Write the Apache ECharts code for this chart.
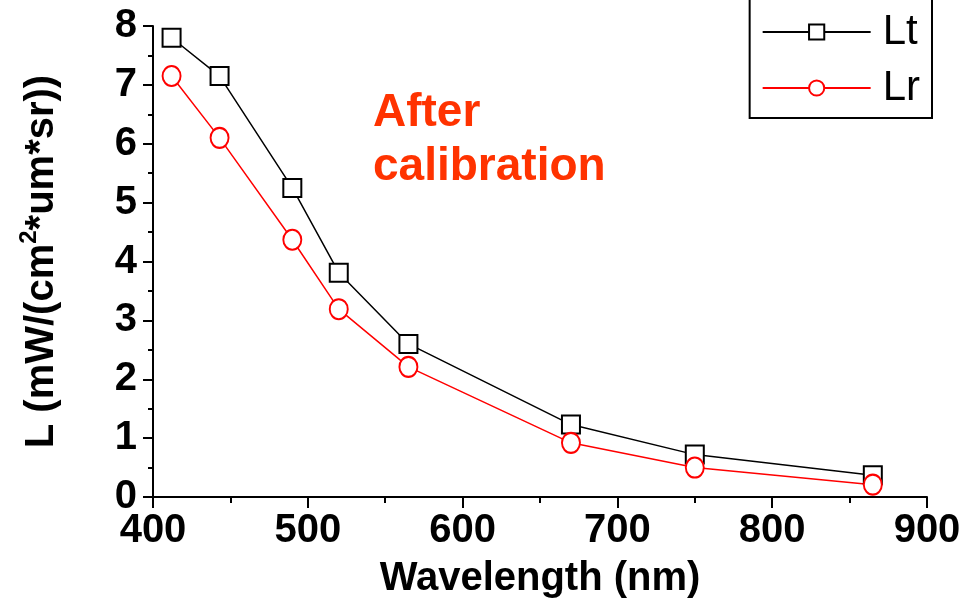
<!DOCTYPE html>
<html>
<head>
<meta charset="utf-8">
<script src="https://cdn.jsdelivr.net/npm/echarts@6/dist/echarts.min.js"></script>
<style>
  html, body { margin: 0; padding: 0; background: #fff; }
  #chart { width: 980px; height: 605px; }
</style>
</head>
<body>
<div id="chart"></div>
<script>
var wavelengths = [412, 443, 490, 520, 565, 670, 750, 865];
var lt = [7.8, 7.15, 5.25, 3.81, 2.6, 1.23, 0.72, 0.37];
var lr = [7.15, 6.1, 4.37, 3.19, 2.21, 0.92, 0.5, 0.21];
var xTicks = [400, 500, 600, 700, 800, 900];
var yTicks = [0, 1, 2, 3, 4, 5, 6, 7, 8];

function pairs(xs, ys) {
  return xs.map(function (x, i) { return [x, ys[i]]; });
}

var font = 'Liberation Sans';
var chart = echarts.init(document.getElementById('chart'));

var option = {
  backgroundColor: '#fff',
  animation: false,
  grid: { left: 153, right: 53, top: 26, bottom: 108, outerBoundsMode: 'none' },
  legend: {
    orient: 'vertical',
    right: 48,
    top: -14,
    padding: [25, 12, 9, 12],
    itemGap: 14,
    itemWidth: 108,
    itemHeight: 19,
    borderColor: '#000',
    borderWidth: 2,
    borderRadius: 0,
    textStyle: { fontFamily: font, fontSize: 42, color: '#000', lineHeight: 42, padding: [0, 0, 0, 7] },
    data: ['Lt', 'Lr']
  },
  xAxis: {
    type: 'value',
    min: xTicks[0],
    max: xTicks[xTicks.length - 1],
    interval: 100,
    name: 'Wavelength (nm)',
    nameLocation: 'middle',
    nameGap: 62,
    nameTextStyle: { fontFamily: font, fontSize: 40, fontWeight: 'bold', color: '#000' },
    axisLine: { lineStyle: { color: '#000', width: 2 } },
    axisTick: { inside: false, length: 11, lineStyle: { color: '#000', width: 2 } },
    minorTick: { show: true, splitNumber: 2, length: 6, lineStyle: { color: '#000', width: 2 } },
    axisLabel: { fontFamily: font, fontSize: 40, fontWeight: 'bold', color: '#000', margin: 14 },
    splitLine: { show: false }
  },
  yAxis: {
    type: 'value',
    min: yTicks[0],
    max: yTicks[yTicks.length - 1],
    interval: 1,
    name: 'L (mW/(cm{sup|2}*um*sr))',
    nameLocation: 'middle',
    nameGap: 86,
    nameTextStyle: {
      fontFamily: font, fontSize: 40, fontWeight: 'bold', color: '#000',
      rich: {
        sup: { fontFamily: font, fontSize: 24, fontWeight: 'bold', color: '#000', verticalAlign: 'top', lineHeight: 50 }
      }
    },
    axisLine: { show: true, lineStyle: { color: '#000', width: 2 } },
    axisTick: { show: true, inside: false, length: 10, lineStyle: { color: '#000', width: 2 } },
    minorTick: { show: true, splitNumber: 2, length: 5, lineStyle: { color: '#000', width: 2 } },
    axisLabel: { fontFamily: font, fontSize: 40, fontWeight: 'bold', color: '#000', margin: 16 },
    splitLine: { show: false }
  },
  series: [
    {
      name: 'Lt',
      type: 'line',
      data: pairs(wavelengths, lt),
      symbol: 'emptyRect',
      symbolSize: 18,
      color: '#000',
      lineStyle: { color: '#000', width: 1.5 },
      itemStyle: { color: '#000', borderWidth: 2 }
    },
    {
      name: 'Lr',
      type: 'line',
      data: pairs(wavelengths, lr),
      symbol: 'emptyCircle',
      symbolSize: [18, 20],
      color: '#ff0000',
      lineStyle: { color: '#ff0000', width: 1.5 },
      itemStyle: { color: '#ff0000', borderWidth: 2 }
    }
  ],
  graphic: [
    {
      type: 'text',
      left: 373,
      top: 86,
      style: {
        text: 'After\ncalibration',
        fill: '#ff3300',
        font: 'bold 46px "Liberation Sans"',
        lineHeight: 54
      }
    }
  ]
};

chart.setOption(option);
</script>
</body>
</html>
